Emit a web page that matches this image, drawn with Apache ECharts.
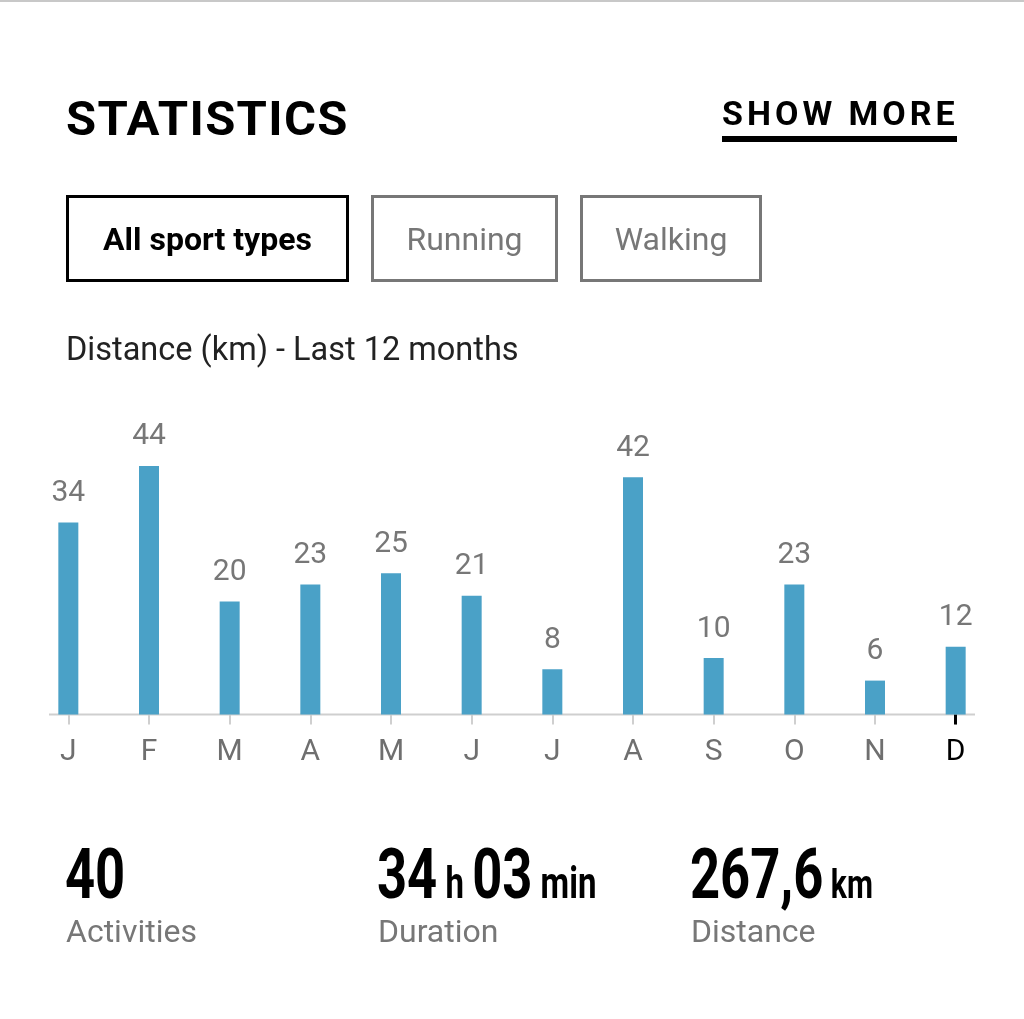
<!DOCTYPE html>
<html>
<head>
<meta charset="utf-8">
<script src="https://cdn.jsdelivr.net/npm/echarts@6/dist/echarts.min.js"></script>
<style>
	html, body { margin: 0; padding: 0; background: #fff; }
	#page { position: relative; width: 1024px; height: 1019px; overflow: hidden; font-family: Roboto, sans-serif; }
	#chart { position: absolute; left: 0; top: 0; width: 1024px; height: 1019px; }
	#topLine { position: absolute; left: 0; top: 0; width: 1024px; height: 2px; background: #c8c8c8; }
	.abs { position: absolute; white-space: nowrap; }
	#title { left: 66px; top: 90px; font-size: 49px; font-weight: 700; letter-spacing: 1.3px; color: #000; }
	#more { left: 722px; top: 93px; font-size: 34px; font-weight: 700; letter-spacing: 4px; color: #000; }
	#moreLine { left: 722px; top: 136px; width: 235px; height: 6px; background: #000; }
	.btn { top: 195px; height: 87px; box-sizing: border-box; display: flex; align-items: center; justify-content: center; font-size: 32px; }
	#b1 { left: 66px; width: 283px; border: 3px solid #000; font-weight: 700; color: #000; }
	#b2 { left: 371px; width: 187px; border: 3px solid #777; color: #777; }
	#b3 { left: 580px; width: 182px; border: 3px solid #777; color: #777; }
	#sub { left: 66px; top: 330px; font-size: 32.5px; color: #222; }
	.big { top: 833px; font-weight: 700; font-size: 70px; color: #000; transform: scaleX(0.75); transform-origin: 0 0; }
	.big small { font-size: 44px; }
	#s3 small { font-size: 40px; }
	.lbl { top: 912px; font-size: 32px; color: #777; }
</style>
</head>
<body>
<div id="page">
	<div id="chart"></div>
	<div id="topLine"></div>
	<div class="abs" id="title">STATISTICS</div>
	<div class="abs" id="more">SHOW MORE</div>
	<div class="abs" id="moreLine"></div>
	<div class="abs btn" id="b1">All sport types</div>
	<div class="abs btn" id="b2">Running</div>
	<div class="abs btn" id="b3">Walking</div>
	<div class="abs" id="sub">Distance (km) - Last 12 months</div>
	<div class="abs big" id="s1" style="left:65px"></div>
	<div class="abs big" id="s2" style="left:377px"></div>
	<div class="abs big" id="s3" style="left:690px"></div>
	<div class="abs lbl" style="left:66px">Activities</div>
	<div class="abs lbl" style="left:378px">Duration</div>
	<div class="abs lbl" style="left:691px">Distance</div>
</div>
<script>
var months = ['J', 'F', 'M', 'A', 'M', 'J', 'J', 'A', 'S', 'O', 'N', 'D'];
var distances = [34, 44, 20, 23, 25, 21, 8, 42, 10, 23, 6, 12];
var activities = '40';
var durationH = '34', durationMin = '03';
var totalKm = '267,6';

document.getElementById('s1').innerHTML = activities;
document.getElementById('s2').innerHTML = durationH + '<small> h </small>' + durationMin + '<small> min</small>';
document.getElementById('s3').innerHTML = totalKm + '<small> km</small>';

var lastIdx = months.length - 1;
var myChart = echarts.init(document.getElementById('chart'));

var option = {
	animation: false,
	grid: {
		left: 28,
		right: 28,
		top: 432,
		bottom: 304.5
	},
	xAxis: [{
		type: 'category',
		data: months,
		axisLine: { show: false },
		axisTick: {
			show: true,
			alignWithLabel: true,
			length: 10,
			lineStyle: { color: '#cfcfcf', width: 2 }
		},
		axisLabel: {
			fontSize: 30,
			fontFamily: 'Roboto',
			margin: 23,
			color: function(value, index) {
				return index === lastIdx ? '#000' : '#6f6f6f';
			}
		}
	}, {
		type: 'category',
		data: months,
		position: 'bottom',
		axisLine: { show: false },
		axisLabel: { show: false },
		axisTick: {
			show: true,
			alignWithLabel: true,
			length: 10,
			interval: function(index) { return index === lastIdx; },
			lineStyle: { color: '#000', width: 3 }
		}
	}],
	yAxis: {
		type: 'value',
		min: 0,
		max: 50,
		show: false
	},
	graphic: [{
		type: 'line',
		shape: { x1: 49, y1: 714.5, x2: 975, y2: 714.5 },
		style: { stroke: '#cfcfcf', lineWidth: 2 },
		z: 0
	}],
	series: [{
		type: 'bar',
		data: distances,
		barWidth: 20,
		itemStyle: { color: '#4aa1c7' },
		label: {
			show: true,
			position: 'top',
			distance: 14,
			fontSize: 30,
			fontFamily: 'Roboto',
			color: '#777'
		},
		z: 3
	}]
};
myChart.setOption(option);
</script>
</body>
</html>
